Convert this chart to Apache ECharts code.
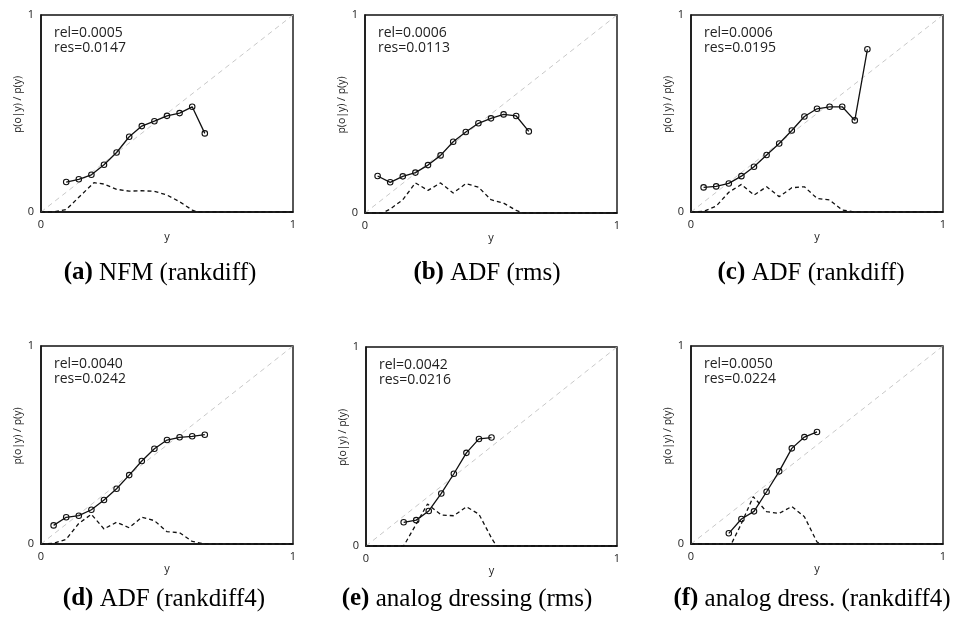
<!DOCTYPE html>
<html><head><meta charset="utf-8">
<script src="https://cdn.jsdelivr.net/npm/echarts@6/dist/echarts.min.js"></script>
<style>html,body{margin:0;padding:0;background:#fff}#c{width:977px;height:628px}</style>
</head><body><div id="c"></div>
<script>
// ---------- data ----------
const tickLabels = ['0', '1'];
const yAxisName = 'p(o|y) / p(y)';
const xAxisName = 'y';
const captionLetters = ['(a)', '(b)', '(c)', '(d)', '(e)', '(f)'];
const captionTexts = ['NFM (rankdiff)', 'ADF (rms)', 'ADF (rankdiff)', 'ADF (rankdiff4)', 'analog dressing (rms)', 'analog dress. (rankdiff4)'];
const relValues = ['0.0005', '0.0006', '0.0006', '0.0040', '0.0042', '0.0050'];
const resValues = ['0.0147', '0.0113', '0.0195', '0.0242', '0.0216', '0.0224'];
const diagX = [0, 1];
const diagY = [0, 1];

// (a) NFM (rankdiff)
const aX = [0.10, 0.15, 0.20, 0.25, 0.30, 0.35, 0.40, 0.45, 0.50, 0.55, 0.60, 0.65];
const aY = [0.152, 0.166, 0.189, 0.240, 0.302, 0.382, 0.436, 0.461, 0.488, 0.502, 0.534, 0.399];
const aDashX = [0, 0.05, 0.10, 0.15, 0.20, 0.21, 0.25, 0.30, 0.35, 0.40, 0.45, 0.50, 0.55, 0.60, 0.62, 1];
const aDashY = [0, 0, 0.012, 0.075, 0.136, 0.149, 0.142, 0.115, 0.106, 0.108, 0.105, 0.086, 0.052, 0.010, 0, 0];

// (b) ADF (rms)
const bX = [0.05, 0.10, 0.15, 0.20, 0.25, 0.30, 0.35, 0.40, 0.45, 0.50, 0.55, 0.60, 0.65];
const bY = [0.187, 0.155, 0.185, 0.204, 0.242, 0.291, 0.360, 0.409, 0.453, 0.478, 0.498, 0.490, 0.412];
const bDashX = [0, 0.07, 0.10, 0.15, 0.20, 0.25, 0.30, 0.35, 0.40, 0.45, 0.50, 0.55, 0.60, 0.63, 1];
const bDashY = [0, 0, 0.020, 0.067, 0.152, 0.114, 0.152, 0.101, 0.148, 0.131, 0.067, 0.050, 0.013, 0, 0];

// (c) ADF (rankdiff)
const cX = [0.05, 0.10, 0.15, 0.20, 0.25, 0.30, 0.35, 0.40, 0.45, 0.50, 0.55, 0.60, 0.65, 0.70];
const cY = [0.125, 0.130, 0.145, 0.182, 0.230, 0.289, 0.348, 0.414, 0.485, 0.524, 0.534, 0.534, 0.465, 0.826];
const cDashX = [0, 0.05, 0.10, 0.15, 0.20, 0.25, 0.30, 0.35, 0.40, 0.45, 0.50, 0.55, 0.60, 0.65, 1];
const cDashY = [0, 0.003, 0.030, 0.100, 0.140, 0.086, 0.128, 0.078, 0.123, 0.128, 0.069, 0.061, 0.010, 0, 0];

// (d) ADF (rankdiff4)
const dX = [0.05, 0.10, 0.15, 0.20, 0.25, 0.30, 0.35, 0.40, 0.45, 0.50, 0.55, 0.60, 0.65];
const dY = [0.094, 0.135, 0.143, 0.173, 0.222, 0.279, 0.348, 0.419, 0.481, 0.525, 0.539, 0.544, 0.552];
const dDashX = [0, 0.05, 0.10, 0.15, 0.20, 0.25, 0.30, 0.35, 0.40, 0.45, 0.50, 0.55, 0.60, 0.65, 1];
const dDashY = [0, 0.003, 0.024, 0.104, 0.150, 0.076, 0.110, 0.082, 0.135, 0.118, 0.062, 0.057, 0.013, 0, 0];

// (e) analog dressing (rms)
const eX = [0.15, 0.20, 0.25, 0.30, 0.35, 0.40, 0.45, 0.50];
const eY = [0.119, 0.130, 0.176, 0.264, 0.363, 0.468, 0.538, 0.545];
const eDashX = [0, 0.15, 0.20, 0.245, 0.30, 0.35, 0.40, 0.45, 0.50, 0.52, 1];
const eDashY = [0, 0, 0.110, 0.211, 0.156, 0.152, 0.197, 0.160, 0.040, 0, 0];

// (f) analog dress. (rankdiff4)
const fX = [0.15, 0.20, 0.25, 0.30, 0.35, 0.40, 0.45, 0.50];
const fY = [0.054, 0.126, 0.165, 0.264, 0.367, 0.483, 0.540, 0.566];
const fDashX = [0, 0.16, 0.20, 0.247, 0.30, 0.35, 0.40, 0.45, 0.50, 0.515, 1];
const fDashY = [0, 0, 0.103, 0.239, 0.163, 0.155, 0.189, 0.138, 0.010, 0, 0];

const panels = [
  [aX, aY, aDashX, aDashY],
  [bX, bY, bDashX, bDashY],
  [cX, cY, cDashX, cDashY],
  [dX, dY, dDashX, dDashY],
  [eX, eY, eDashX, eDashY],
  [fX, fY, fDashX, fDashY]
];

// ---------- layout ----------
const layout = [
  { left: 41,  top: 15,  width: 252, height: 197, capX: 160, capY: 273, nameGap: 12, xNameGap: 11 },
  { left: 365, top: 15,  width: 252, height: 198, capX: 487, capY: 273, nameGap: 16, xNameGap: 11 },
  { left: 691, top: 15,  width: 252, height: 197, capX: 811, capY: 273, nameGap: 17, xNameGap: 11 },
  { left: 41,  top: 346, width: 252, height: 198, capX: 164, capY: 599, nameGap: 13, xNameGap: 14 },
  { left: 366, top: 347, width: 251, height: 199, capX: 467, capY: 599, nameGap: 13, xNameGap: 14 },
  { left: 691, top: 346, width: 252, height: 198, capX: 812, capY: 599, nameGap: 14, xNameGap: 14 }
];

const zip = (xs, ys) => xs.map((x, i) => [x, ys[i]]);
const sans = 'Open Sans, Noto Sans, sans-serif';
const serif = 'Liberation Serif, serif';

const grid = [], xAxis = [], yAxis = [], series = [], title = [], graphic = [];
layout.forEach((L, i) => {
  grid.push({ left: L.left, top: L.top, width: L.width, height: L.height, show: true,
              borderColor: '#111', borderWidth: 1.4, backgroundColor: 'transparent' });
  const common = {
    gridIndex: i, type: 'value', min: 0, max: 1, interval: 1,
    splitLine: { show: false }, axisTick: { show: false },
    axisLine: { show: true, lineStyle: { color: '#111', width: 1.5 } },
    axisLabel: { fontFamily: sans, fontSize: 11, color: '#222', margin: 7,
                 formatter: v => tickLabels[v >= 1 ? 1 : 0] },
    nameLocation: 'middle', nameTextStyle: { fontFamily: sans, fontSize: 11, color: '#222' }
  };
  xAxis.push(Object.assign({}, common, { name: xAxisName, nameGap: L.xNameGap }));
  yAxis.push(Object.assign({}, common, { name: yAxisName, nameGap: L.nameGap,
    nameTextStyle: { fontFamily: sans, fontSize: 10.5, color: '#222', padding: [0, 0, 0, 18] } }));
  const [px, py, dx, dy] = panels[i];
  series.push({ type: 'line', xAxisIndex: i, yAxisIndex: i, data: zip(diagX, diagY), symbol: 'none', silent: true,
                lineStyle: { color: '#c8c8c8', width: 1, type: [5, 4] }, z: 1 });
  series.push({ type: 'line', xAxisIndex: i, yAxisIndex: i, data: zip(dx, dy), symbol: 'none', silent: true,
                lineStyle: { color: '#111', width: 1.3, type: [4, 3] }, z: 2 });
  series.push({ type: 'line', xAxisIndex: i, yAxisIndex: i, data: zip(px, py), symbol: 'circle', symbolSize: 5.5,
                itemStyle: { color: 'rgba(255,255,255,0)', borderColor: '#111', borderWidth: 1.1 },
                lineStyle: { color: '#111', width: 1.3 }, z: 3 });
  title.push({ text: 'rel=' + relValues[i] + '\nres=' + resValues[i], left: L.left + 13, top: L.top + 11, padding: 0,
               textStyle: { fontFamily: sans, fontSize: 14, fontWeight: 'normal', color: '#222', lineHeight: 15 } });
  graphic.push({ type: 'text', x: L.capX, y: L.capY,
    style: { text: '{b|' + captionLetters[i] + '} ' + captionTexts[i], fontFamily: serif, fontSize: 25, fill: '#000',
             align: 'center', verticalAlign: 'middle',
             rich: { b: { fontFamily: serif, fontSize: 25, fontWeight: 'bold', fill: '#000' } } } });
});

const chart = echarts.init(document.getElementById('c'), null, { renderer: 'canvas' });
chart.setOption({ animation: false, backgroundColor: '#fff', grid, xAxis, yAxis, series, title, graphic });
</script></body></html>
